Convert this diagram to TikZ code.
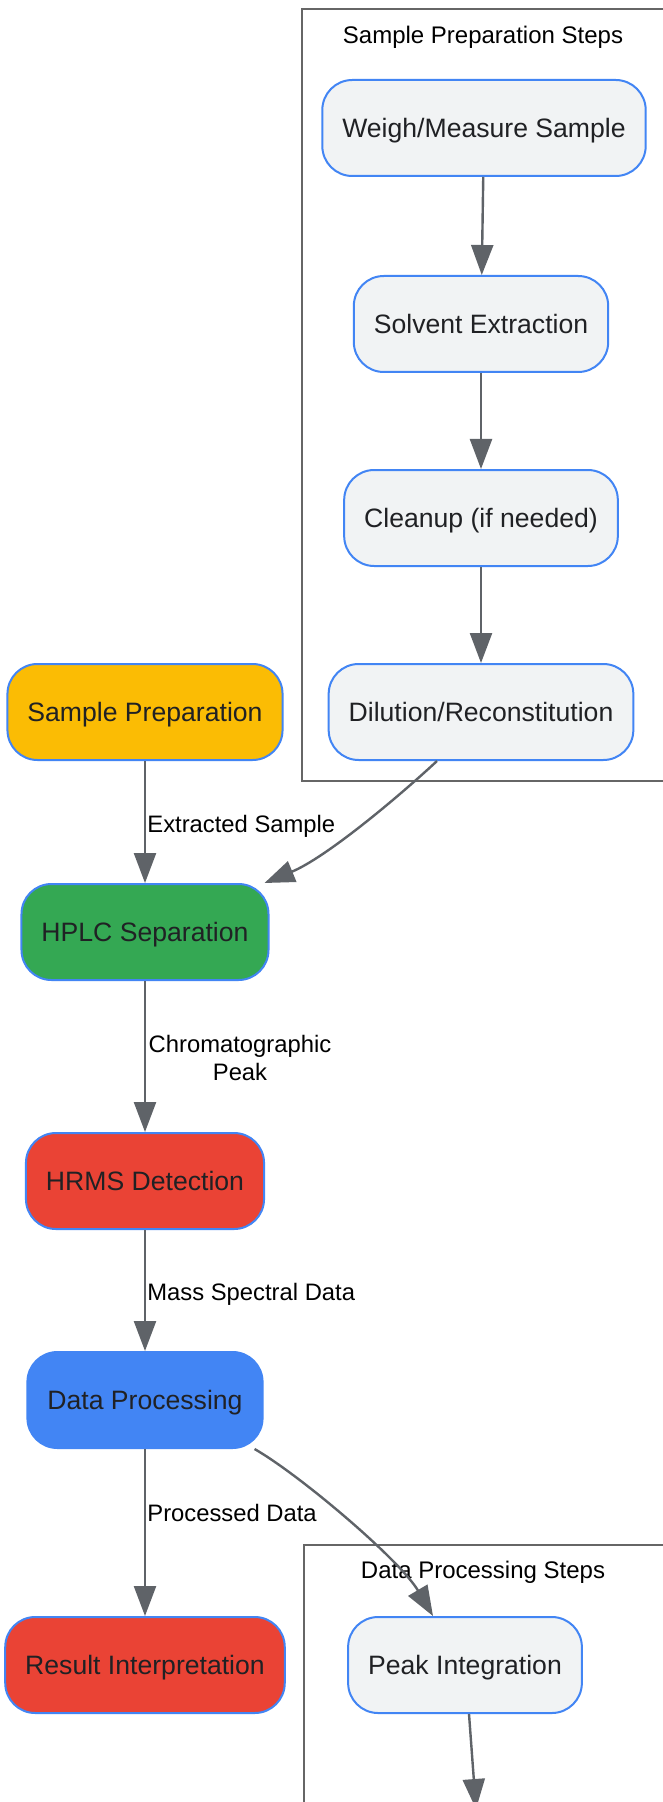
\documentclass[tikz,border=0pt]{standalone}
\usepackage{fontspec}
\setmainfont{Liberation Sans}
\usetikzlibrary{arrows.meta}

\definecolor{edgegray}{HTML}{5F6368}
\definecolor{nodeblue}{HTML}{4285F4}
\definecolor{stepfill}{HTML}{F1F3F4}
\definecolor{prepyellow}{HTML}{FBBC04}
\definecolor{hplcgreen}{HTML}{34A853}
\definecolor{hrmsred}{HTML}{EA4335}
\definecolor{textdark}{HTML}{202124}
\definecolor{boxgray}{HTML}{666666}

\tikzset{
  proc/.style={rounded corners=15pt,draw=nodeblue,line width=1pt,minimum height=48pt,inner xsep=10pt,text height=9.7pt,text depth=0pt,text=textdark,font=\fontsize{13.3}{16}\selectfont},
  stepbox/.style={proc,fill=stepfill},
  flow/.style={draw=edgegray,line width=1.2pt,-{Triangle[length=15pt,width=11pt]}},
  elabel/.style={font=\fontsize{11.9}{14}\selectfont,text=black},
  cluster/.style={draw=boxgray,line width=1pt},
  ctitle/.style={font=\fontsize{12}{14}\selectfont,text=black}
}

\begin{document}
\begin{tikzpicture}[x=0.5pt,y=-0.5pt]
    \useasboundingbox[fill=white] (0,0) rectangle (663,1802);
    % subgraph frames
    \draw[cluster] (302,9) rectangle (690,781);
    \node[ctitle] (prepttl) at (483,37) {Sample Preparation Steps};
    \draw[cluster] (304,1545) rectangle (690,1840);
    \node[ctitle] (datattl) at (483,1572) {Data Processing Steps};
    % preparation steps
    \node[stepbox] (weigh) at (484,128) {Weigh/Measure Sample};
    \node[stepbox] (solv) at (481,324) {Solvent Extraction};
    \node[stepbox] (clean) at (481,518) {Cleanup (if needed)};
    \node[stepbox] (dil) at (481,712) {Dilution/Reconstitution};
    % main flow
    \node[proc,fill=prepyellow] (prep) at (145,712) {Sample Preparation};
    \node[proc,fill=hplcgreen] (hplc) at (145,932) {HPLC Separation};
    \node[proc,fill=hrmsred] (hrms) at (145,1181) {HRMS Detection};
    \node[proc,fill=nodeblue] (dp) at (145,1400) {Data Processing};
    \node[proc,fill=hrmsred] (res) at (145,1665) {Result Interpretation};
    \node[stepbox] (peak) at (465,1665) {Peak Integration};
    \coordinate (nxt) at (476,1809);
    % connectors
    \draw[flow] (weigh) -- (solv);
    \draw[flow] (solv) -- (clean);
    \draw[flow] (clean) -- (dil);
    \draw[flow] ([xshift=-22pt]dil.south) .. controls (395,800) and (325,858) .. ([xshift=-2.5pt]hplc.north east);
    \draw[flow] (prep) -- (hplc);
    \draw[flow] (hplc) -- (hrms);
    \draw[flow] (hrms) -- (dp);
    \draw[flow] (dp) -- (res);
    \draw[flow] ([xshift=-4.5pt]dp.south east) .. controls (300,1475) and (400,1560) .. ([xshift=-16pt]peak.north);
    \draw[flow] ([xshift=2pt]peak.south) -- (nxt);
    % edge labels
    \node[elabel,anchor=west,inner xsep=0pt] (lblext) at (147,826) {Extracted Sample};
    \node[elabel,align=center] (lblchrom) at (240,1058) {Chromatographic\\Peak};
    \node[elabel,anchor=west,inner xsep=0pt] (lblmass) at (147,1294) {Mass Spectral Data};
    \node[elabel,anchor=west,inner xsep=0pt] (lblproc) at (147,1513) {Processed Data};
\end{tikzpicture}
\end{document}
